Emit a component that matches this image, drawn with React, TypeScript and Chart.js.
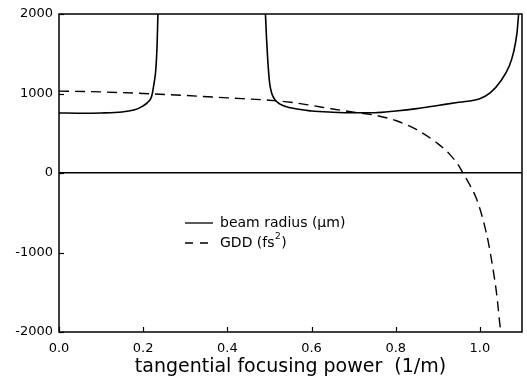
import React, { useEffect, useRef } from 'react';
import { Chart, registerables } from 'chart.js';

Chart.register(...registerables);

// Beam radius, left branch (µm)
const beamX1 = [0, 0.05, 0.1, 0.15, 0.18, 0.2, 0.21, 0.22, 0.226, 0.23, 0.233, 0.235];
const beamY1 = [755, 752, 755, 768, 795, 845, 885, 963, 1135, 1300, 1600, 2000];
// Beam radius, right branch (µm)
const beamX2 = [0.4905, 0.493, 0.496, 0.5, 0.505, 0.512, 0.524, 0.55, 0.6, 0.65, 0.7, 0.75, 0.8, 0.85, 0.9, 0.95, 1.0, 1.025, 1.05, 1.07, 1.08, 1.088, 1.092];
const beamY2 = [2000, 1700, 1420, 1150, 1010, 930, 870, 820, 780, 765, 758, 758, 780, 810, 850, 890, 935, 1010, 1160, 1350, 1520, 1760, 2000];
// GDD (fs^2)
const gddX = [0, 0.1, 0.2, 0.3, 0.4, 0.5, 0.55, 0.6, 0.65, 0.7, 0.75, 0.8, 0.85, 0.9, 0.93, 0.95, 0.96, 0.975, 0.99, 1.0, 1.01, 1.02, 1.03, 1.04, 1.048, 1.05];
const gddY = [1030, 1020, 1000, 975, 945, 915, 890, 850, 805, 765, 728, 660, 545, 370, 225, 90, -5, -140, -300, -450, -640, -870, -1170, -1530, -1930, -2000];

const xTicks = [0, 0.2, 0.4, 0.6, 0.8, 1.0];
const yTicks = [-2000, -1000, 0, 1000, 2000];
const xTitle = 'tangential focusing power  (1/m)';
const legendBeam = 'beam radius (μm)';
const legendGdd = 'GDD (fs';

const FONT = "'DejaVu Sans', 'Liberation Sans', sans-serif";

const framePlugin = {
  id: 'frame',
  afterDatasetsDraw(chart: any) {
    const { ctx, chartArea: a, scales } = chart;
    ctx.save();
    ctx.strokeStyle = '#000';
    ctx.lineWidth = 1.5;
    ctx.strokeRect(a.left, a.top, a.right - a.left, a.bottom - a.top);
    ctx.lineWidth = 1.2;
    xTicks.forEach((v) => {
      const px = Math.round(scales.x.getPixelForValue(v)) + 0.5;
      ctx.beginPath();
      ctx.moveTo(px, a.bottom);
      ctx.lineTo(px, a.bottom - 5);
      ctx.stroke();
    });
    yTicks.forEach((v) => {
      const py = Math.round(scales.y.getPixelForValue(v)) + 0.5;
      ctx.beginPath();
      ctx.moveTo(a.left, py);
      ctx.lineTo(a.left + 5, py);
      ctx.stroke();
    });
    // legend
    const lx = a.left + 126;
    const ly1 = a.top + 209;
    const ly2 = a.top + 229;
    ctx.lineWidth = 1.3;
    ctx.beginPath();
    ctx.moveTo(lx, ly1);
    ctx.lineTo(lx + 28, ly1);
    ctx.stroke();
    ctx.setLineDash([8, 7]);
    ctx.beginPath();
    ctx.moveTo(lx, ly2);
    ctx.lineTo(lx + 23, ly2);
    ctx.stroke();
    ctx.setLineDash([]);
    ctx.fillStyle = '#000';
    ctx.font = `14px ${FONT}`;
    ctx.textBaseline = 'middle';
    ctx.textAlign = 'left';
    ctx.fillText(legendBeam, lx + 35, ly1);
    ctx.fillText(legendGdd, lx + 35, ly2);
    const w = ctx.measureText(legendGdd).width;
    ctx.font = `9px ${FONT}`;
    ctx.fillText('2', lx + 35 + w + 0.5, ly2 - 6);
    const w2 = ctx.measureText('2').width;
    ctx.font = `14px ${FONT}`;
    ctx.fillText(')', lx + 35 + w + w2 + 1, ly2);
    ctx.restore();
  },
};

export default function App() {
  const ref = useRef<HTMLCanvasElement | null>(null);
  useEffect(() => {
    document.body.style.margin = '0';
    const canvas = ref.current;
    if (!canvas) return;
    const beamData: any[] = beamX1.map((x, i) => ({ x, y: beamY1[i] }));
    beamData.push({ x: 0.36, y: null });
    beamX2.forEach((x, i) => beamData.push({ x, y: beamY2[i] }));
    const gddData = gddX.map((x, i) => ({ x, y: gddY[i] }));
    const chart = new Chart(canvas, {
      type: 'line',
      data: {
        datasets: [
          {
            label: 'beam radius',
            data: beamData,
            borderColor: '#000',
            borderWidth: 1.6,
            pointRadius: 0,
            fill: false,
            spanGaps: false,
            cubicInterpolationMode: 'monotone',
          },
          {
            label: 'GDD',
            data: gddData,
            borderColor: '#000',
            borderWidth: 1.4,
            borderDash: [10, 6],
            pointRadius: 0,
            fill: false,
            cubicInterpolationMode: 'monotone',
          },
        ],
      },
      options: {
        responsive: false,
        animation: false,
        devicePixelRatio: 1,
        layout: { padding: { top: 14, right: 5, left: 0, bottom: 0 } },
        plugins: { legend: { display: false }, tooltip: { enabled: false } },
        scales: {
          x: {
            type: 'linear',
            min: 0,
            max: 1.1,
            afterBuildTicks: (s: any) => {
              s.ticks = xTicks.map((v) => ({ value: v }));
            },
            afterFit: (s: any) => {
              s.height = 49;
            },
            grid: { display: false, drawTicks: false },
            border: { display: false },
            ticks: {
              color: '#000',
              font: { family: FONT, size: 13 },
              padding: 9,
              maxRotation: 0,
              callback: (v: any) => Number(v).toFixed(1),
            },
            title: {
              display: true,
              text: xTitle,
              color: '#000',
              font: { family: FONT, size: 19 },
              padding: { top: 0, bottom: 3 },
            },
          },
          y: {
            type: 'linear',
            min: -2000,
            max: 2000,
            afterBuildTicks: (s: any) => {
              s.ticks = yTicks.map((v) => ({ value: v }));
            },
            afterFit: (s: any) => {
              s.width = 59;
            },
            grid: {
              drawTicks: false,
              lineWidth: 1.5,
              color: (c: any) => (c.tick && c.tick.value === 0 ? '#000' : 'rgba(0,0,0,0)'),
            },
            border: { display: false },
            ticks: {
              color: '#000',
              font: { family: FONT, size: 13 },
              padding: 6,
              callback: (v: any) => String(v),
            },
          },
        },
      },
      plugins: [framePlugin],
    } as any);
    return () => chart.destroy();
  }, []);
  return (
    <div style={{ width: 527, height: 381, background: '#fff' }}>
      <canvas ref={ref} width={527} height={381} />
    </div>
  );
}
